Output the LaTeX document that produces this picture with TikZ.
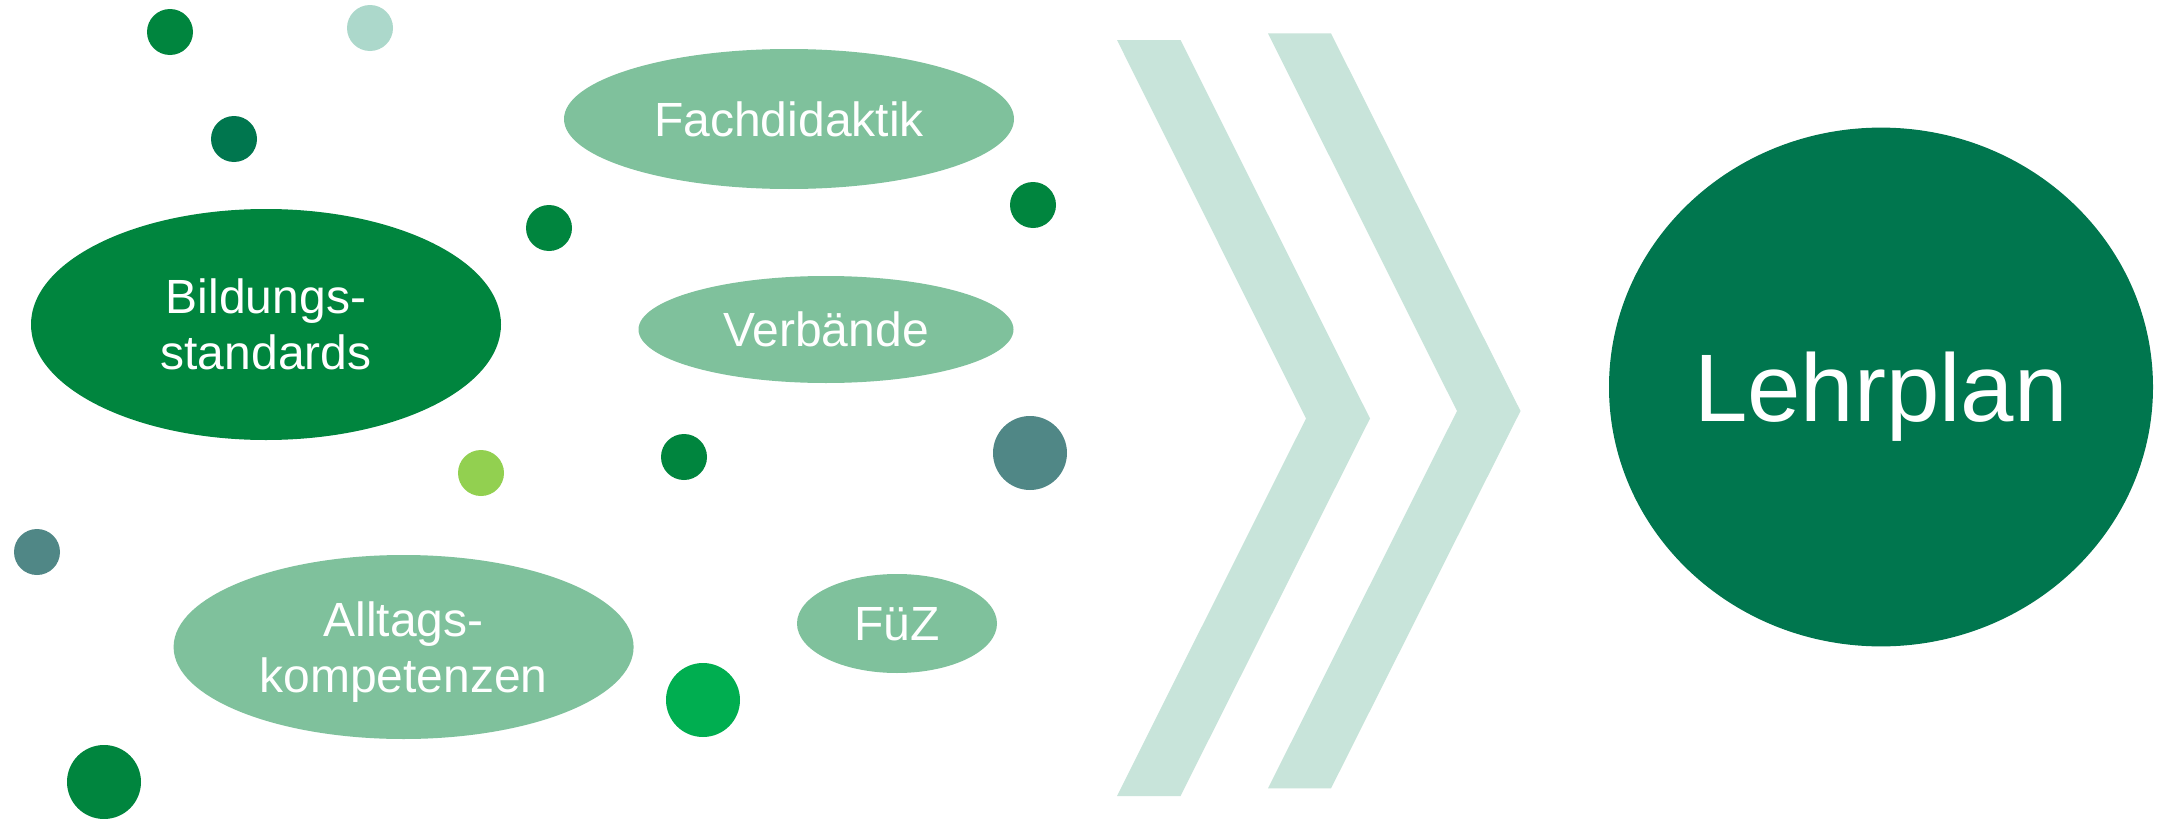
\documentclass[tikz,border=0pt]{standalone}
\usepackage{fontspec}
\setmainfont{Liberation Sans}
\usetikzlibrary{shapes.geometric}
\definecolor{gMain}{RGB}{0,133,62}
\definecolor{gLight}{RGB}{127,193,156}
\definecolor{gDark}{RGB}{0,118,78}
\definecolor{gPale}{RGB}{172,216,203}
\definecolor{gTeal}{RGB}{80,135,134}
\definecolor{gLime}{RGB}{146,208,80}
\definecolor{gBright}{RGB}{0,174,80}
\definecolor{gChev}{RGB}{200,228,218}
\begin{document}
\begin{tikzpicture}[x=0.5pt,y=-0.5pt,
  blob/.style={ellipse, inner sep=0pt, text=white, align=center,
    font=\fontsize{24}{28}\selectfont, text depth=0pt},
  dotS/.style={circle, inner sep=0pt, minimum size=23pt},
  dotL/.style={circle, inner sep=0pt, minimum size=37pt},
  chev/.style={fill=gChev}]
\useasboundingbox (0,0) rectangle (2160,819);
\fill[white] (0,0) rectangle (2160,819);

% chevrons
\fill[chev] (1117,40) -- (1180.5,40) -- (1370,418.5) -- (1180.5,796) -- (1117,796) -- (1306,418.5) -- cycle;
\fill[chev] (1268,33.4) -- (1331,33.4) -- (1520.5,411) -- (1331,788.4) -- (1268,788.4) -- (1457,411) -- cycle;

% ellipses
\node[blob, fill=gMain, minimum width=235pt, minimum height=115.5pt] (bild) at (266,324.5) {Bildungs-\\standards};
\node[blob, fill=gLight, minimum width=225pt, minimum height=70pt] (fach) at (789,119) {Fachdidaktik};
\node[blob, fill=gLight, minimum width=187.5pt, minimum height=53.5pt] (verb) at (826,329.5) {Verbände};
\node[blob, fill=gLight, minimum width=230pt, minimum height=92pt] (allt) at (403.6,647) {Alltags-\\kompetenzen};
\node[blob, fill=gLight, minimum width=100pt, minimum height=49.5pt] (fuez) at (897,623.5) {FüZ};

% Lehrplan
\node[ellipse, inner sep=0pt, fill=gDark, text=white, text depth=0pt,
  minimum width=272pt, minimum height=259.4pt,
  font=\fontsize{48}{56}\selectfont] (lehr) at (1881,387) {Lehrplan};

% dots
\node[dotS, fill=gMain] (d1) at (170,32) {};
\node[dotS, fill=gPale] (d2) at (370,28) {};
\node[dotS, fill=gDark] (d3) at (234,139) {};
\node[dotS, fill=gMain] (d4) at (549,228) {};
\node[dotS, fill=gMain] (d5) at (1033,205) {};
\node[dotL, fill=gTeal] (d6) at (1030,453) {};
\node[dotS, fill=gMain] (d7) at (684,457) {};
\node[dotS, fill=gLime] (d8) at (481,473) {};
\node[dotS, fill=gTeal] (d9) at (37,552) {};
\node[dotL, fill=gBright] (d10) at (703,700) {};
\node[dotL, fill=gMain] (d11) at (104,782) {};
\end{tikzpicture}
\end{document}
